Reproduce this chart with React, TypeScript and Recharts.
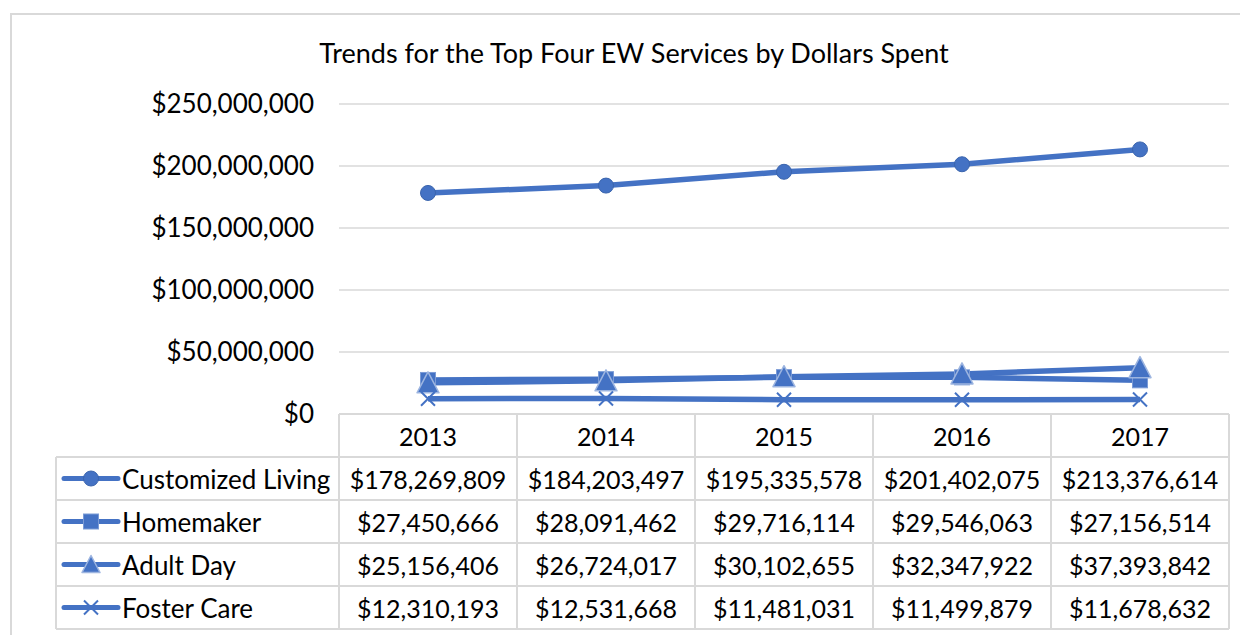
import { CartesianGrid, Line, LineChart, XAxis, YAxis } from "recharts";

const years = ["2013", "2014", "2015", "2016", "2017"];
const customizedLiving = [178269809, 184203497, 195335578, 201402075, 213376614];
const homemaker = [27450666, 28091462, 29716114, 29546063, 27156514];
const adultDay = [25156406, 26724017, 30102655, 32347922, 37393842];
const fosterCare = [12310193, 12531668, 11481031, 11499879, 11678632];
const yTicks = [0, 50000000, 100000000, 150000000, 200000000, 250000000];

type MarkerKind = "circle" | "square" | "triangle" | "cross";

const series: { key: string; name: string; values: number[]; marker: MarkerKind }[] = [
    { key: "customizedLiving", name: "Customized Living", values: customizedLiving, marker: "circle" },
    { key: "homemaker", name: "Homemaker", values: homemaker, marker: "square" },
    { key: "adultDay", name: "Adult Day", values: adultDay, marker: "triangle" },
    { key: "fosterCare", name: "Foster Care", values: fosterCare, marker: "cross" },
];

const data = years.map((year, i) => {
    const row: Record<string, string | number> = { year };
    series.forEach((s) => (row[s.key] = s.values[i]));
    return row;
});

const BLUE = "#4472C4";
const GRID = "#d9d9d9";
const FONT = "Lato, 'Open Sans', sans-serif";
const FONT_SIZE = 26;
const CELL_FONT_SIZE = 25;

const CHART_W = 1240;
const CHART_H = 627;
const MARGIN = { top: 96, right: 19, left: 0, bottom: 0 };
const Y_AXIS_W = 331;
const X_AXIS_H = 221;
const PLOT_W = CHART_W - Y_AXIS_W - MARGIN.right;
const COL_W = PLOT_W / years.length;
const ROW_H = 43;
const LEGEND_W = 283;

const money = (v: number) => "$" + v.toLocaleString("en-US");

const Marker = ({ kind, cx, cy, small }: { kind: MarkerKind; cx: number; cy: number; small?: boolean }) => {
    if (kind === "circle") return <circle cx={cx} cy={cy} r={7.5} fill={BLUE} stroke="#3a64ad" strokeWidth={1} />;
    if (kind === "square")
        return <rect x={cx - 7.5} y={cy - 7.5} width={15} height={15} fill={BLUE} stroke="#7b9bd6" strokeWidth={1} />;
    if (kind === "triangle") {
        const h = small ? 9 : 11;
        return (
            <polygon
                points={`${cx},${cy - h} ${cx + h},${cy + h - 1} ${cx - h},${cy + h - 1}`}
                fill={BLUE}
                stroke="#9db5e0"
                strokeWidth={1.5}
                strokeLinejoin="round"
            />
        );
    }
    return (
        <path
            d={`M${cx - 7},${cy - 7}L${cx + 7},${cy + 7}M${cx - 7},${cy + 7}L${cx + 7},${cy - 7}`}
            stroke={BLUE}
            strokeWidth={2}
        />
    );
};

const TableTick = (props: any) => {
    const { x, y, index, payload } = props;
    const left = x - COL_W / 2;
    const right = x + COL_W / 2;
    const bottom = y + ROW_H * (series.length + 1);
    const legendLeft = left - LEGEND_W;
    return (
        <g fontFamily={FONT} fontSize={CELL_FONT_SIZE} fill="#000">
            <line x1={left} y1={y} x2={left} y2={bottom} stroke={GRID} strokeWidth={2} />
            {index === years.length - 1 && <line x1={right} y1={y} x2={right} y2={bottom} stroke={GRID} strokeWidth={2} />}
            {series.map((s, r) => (
                <line key={s.key} x1={left} y1={y + ROW_H * (r + 1)} x2={right} y2={y + ROW_H * (r + 1)} stroke={GRID} strokeWidth={2} />
            ))}
            <line x1={left} y1={bottom} x2={right} y2={bottom} stroke={GRID} strokeWidth={2} />
            <text x={x} y={y + ROW_H / 2} textAnchor="middle" dominantBaseline="central">
                {payload.value}
            </text>
            {series.map((s, r) => (
                <text key={s.key} x={x} y={y + ROW_H * (r + 1.5)} textAnchor="middle" dominantBaseline="central">
                    {money(s.values[index])}
                </text>
            ))}
            {index === 0 && (
                <g fontSize={FONT_SIZE}>
                    <line x1={legendLeft} y1={y + ROW_H} x2={legendLeft} y2={bottom} stroke={GRID} strokeWidth={2} />
                    {series.map((s, r) => (
                        <line key={s.key} x1={legendLeft} y1={y + ROW_H * (r + 1)} x2={left} y2={y + ROW_H * (r + 1)} stroke={GRID} strokeWidth={2} />
                    ))}
                    <line x1={legendLeft} y1={bottom} x2={left} y2={bottom} stroke={GRID} strokeWidth={2} />
                    {series.map((s, r) => {
                        const cy = y + ROW_H * (r + 1.5);
                        return (
                            <g key={s.key}>
                                <line x1={legendLeft + 8} y1={cy} x2={legendLeft + 62} y2={cy} stroke={BLUE} strokeWidth={5} strokeLinecap="round" />
                                <Marker kind={s.marker} cx={legendLeft + 35} cy={cy} small />
                                <text x={legendLeft + 66} y={cy} dominantBaseline="central">
                                    {s.name}
                                </text>
                            </g>
                        );
                    })}
                </g>
            )}
        </g>
    );
};

export default function App() {
    return (
        <div style={{ position: "relative", width: CHART_W, height: CHART_H, overflow: "hidden", background: "#fff" }}>
            <div
                style={{
                    position: "absolute",
                    left: 2,
                    top: 5,
                    width: 1400,
                    height: 800,
                    border: `2px solid ${GRID}`,
                }}
            />
            <div style={{ position: "absolute", left: 0, top: 0 }}>
                <LineChart width={CHART_W} height={CHART_H} data={data} margin={MARGIN}>
                    <text x={626} y={44} textAnchor="middle" dominantBaseline="central" fontFamily={FONT} fontSize={27} fill="#000">
                        Trends for the Top Four EW Services by Dollars Spent
                    </text>
                    <CartesianGrid vertical={false} stroke={GRID} strokeWidth={1.5} />
                    <XAxis
                        dataKey="year"
                        height={X_AXIS_H}
                        padding={{ left: COL_W / 2, right: COL_W / 2 }}
                        axisLine={{ stroke: GRID, strokeWidth: 2 }}
                        tickLine={false}
                        tickSize={0}
                        tickMargin={0}
                        interval={0}
                        tick={<TableTick />}
                    />
                    <YAxis
                        width={Y_AXIS_W}
                        domain={[0, 250000000]}
                        ticks={yTicks}
                        tickFormatter={money}
                        axisLine={false}
                        tickLine={false}
                        tickSize={0}
                        tickMargin={25}
                        tick={{ fontFamily: FONT, fontSize: FONT_SIZE, fill: "#000" }}
                    />
                    {series.map((s) => (
                        <Line
                            key={s.key}
                            dataKey={s.key}
                            name={s.name}
                            type="linear"
                            stroke={BLUE}
                            strokeWidth={5.5}
                            isAnimationActive={false}
                            activeDot={false}
                            dot={(p: any) => <Marker key={`${s.key}-${p.index}`} kind={s.marker} cx={p.cx} cy={p.cy} />}
                        />
                    ))}
                </LineChart>
            </div>
        </div>
    );
}
